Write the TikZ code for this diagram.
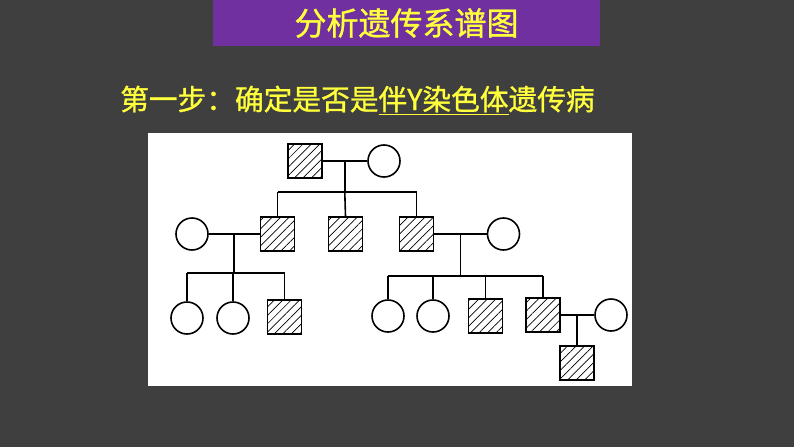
\documentclass[tikz,border=0pt]{standalone}
\usepackage{fontspec}
\newfontfamily\cjk[FakeBold=1]{Noto Sans CJK SC}
\usepackage{tikz}
\usetikzlibrary{patterns.meta, calc}
\definecolor{slidegray}{RGB}{63, 63, 63}
\definecolor{titlepurple}{RGB}{112, 48, 160}
\definecolor{textyellow}{RGB}{255, 255, 60}

\begin{document}
\begin{tikzpicture}[
          x=1pt, y=-1pt,
          every node/.style={font=\cjk},
          titlebar/.style={rectangle, fill=titlepurple, minimum width=387pt, minimum height=46pt, inner sep=0pt, text=textyellow, font=\cjk\fontsize{32}{36}\selectfont},
          panelbox/.style={rectangle, fill=white, minimum width=484pt, minimum height=253pt, inner sep=0pt},
          male_ill/.style={rectangle, draw=black, line width=1.6pt, minimum size=34pt, inner sep=0pt, fill=white, pattern={Lines[angle=45, distance=6pt, line width=0.7pt]}},
          female/.style={circle, draw=black, line width=1.6pt, minimum size=32pt, inner sep=0pt, fill=white},
          kinline/.style={draw=black, line width=1.6pt}
        ]
          % Slide background
          \fill[slidegray] (0, 0) rectangle (794, 447);
          \node[titlebar] (title) at (406.5, 23) {分析遗传系谱图};
          \node[anchor=west, inner sep=0pt, text=textyellow, font=\cjk\fontsize{28.7}{32}\selectfont] (step) at (120, 100) {第一步：确定是否是\underline{伴Y染色体}遗传病};

          % Pedigree panel
          \node[panelbox, anchor=north west] (panel) at (148, 133) {};

          % Generation I
          \node[male_ill] (i1) at (305, 161) {};
          \node[female] (i2) at (384, 161) {};

          % Generation II
          \node[female] (ii0) at (192, 234) {};
          \node[male_ill] (ii1) at (277.5, 234) {};
          \node[male_ill] (ii2) at (345.5, 234) {};
          \node[male_ill] (ii3) at (416.5, 234) {};
          \node[female] (ii4) at (503.5, 234) {};

          % Generation III
          \node[female] (iii1) at (187, 318) {};
          \node[female] (iii2) at (233, 318) {};
          \node[male_ill] (iii3) at (284.5, 317) {};
          \node[female] (iii4) at (388, 316) {};
          \node[female] (iii5) at (433, 316) {};
          \node[male_ill] (iii6) at (485.5, 316) {};
          \node[male_ill] (iii7) at (543, 315) {};
          \node[female] (iii8) at (611, 315) {};

          % Generation IV
          \node[male_ill] (iv1) at (577, 363) {};

          % Marriages and descent lines
          \coordinate (m1) at ($(i1.east)!0.5!(i2.west)$);
          \coordinate (s1) at (345.5, 192);
          \draw[kinline] (i1.east) -- (i2.west);
          \draw[kinline] (m1) -- (m1 |- s1);
          \draw[kinline] (ii1.north |- s1) -- (ii3.north |- s1);
          \draw[kinline] (ii1.north |- s1) -- (ii1.north);
          \draw[kinline] (m1 |- s1) -- (ii2.north);
          \draw[kinline] (ii3.north |- s1) -- (ii3.north);

          \coordinate (m2) at ($(ii0.east)!0.5!(ii1.west)$);
          \coordinate (s2) at (235, 273);
          \draw[kinline] (ii0.east) -- (ii1.west);
          \draw[kinline] (m2) -- (m2 |- s2);
          \draw[kinline] (iii1.north |- s2) -- (iii3.north |- s2);
          \draw[kinline] (iii1.north |- s2) -- (iii1.north);
          \draw[kinline] (iii2.north |- s2) -- (iii2.north);
          \draw[kinline] (iii3.north |- s2) -- (iii3.north);

          \coordinate (m3) at ($(ii3.east)!0.5!(ii4.west)$);
          \coordinate (s3) at (461, 276);
          \draw[kinline] (ii3.east) -- (ii4.west);
          \draw[kinline] (m3) -- (m3 |- s3);
          \draw[kinline] (iii4.north |- s3) -- (iii7.north |- s3);
          \draw[kinline] (iii4.north |- s3) -- (iii4.north);
          \draw[kinline] (iii5.north |- s3) -- (iii5.north);
          \draw[kinline] (iii6.north |- s3) -- (iii6.north);
          \draw[kinline] (iii7.north |- s3) -- (iii7.north);

          \coordinate (m4) at (iv1.north |- iii7.east);
          \draw[kinline] (iii7.east) -- (iii8.west);
          \draw[kinline] (m4) -- (iv1.north);
        \end{tikzpicture}
\end{document}
